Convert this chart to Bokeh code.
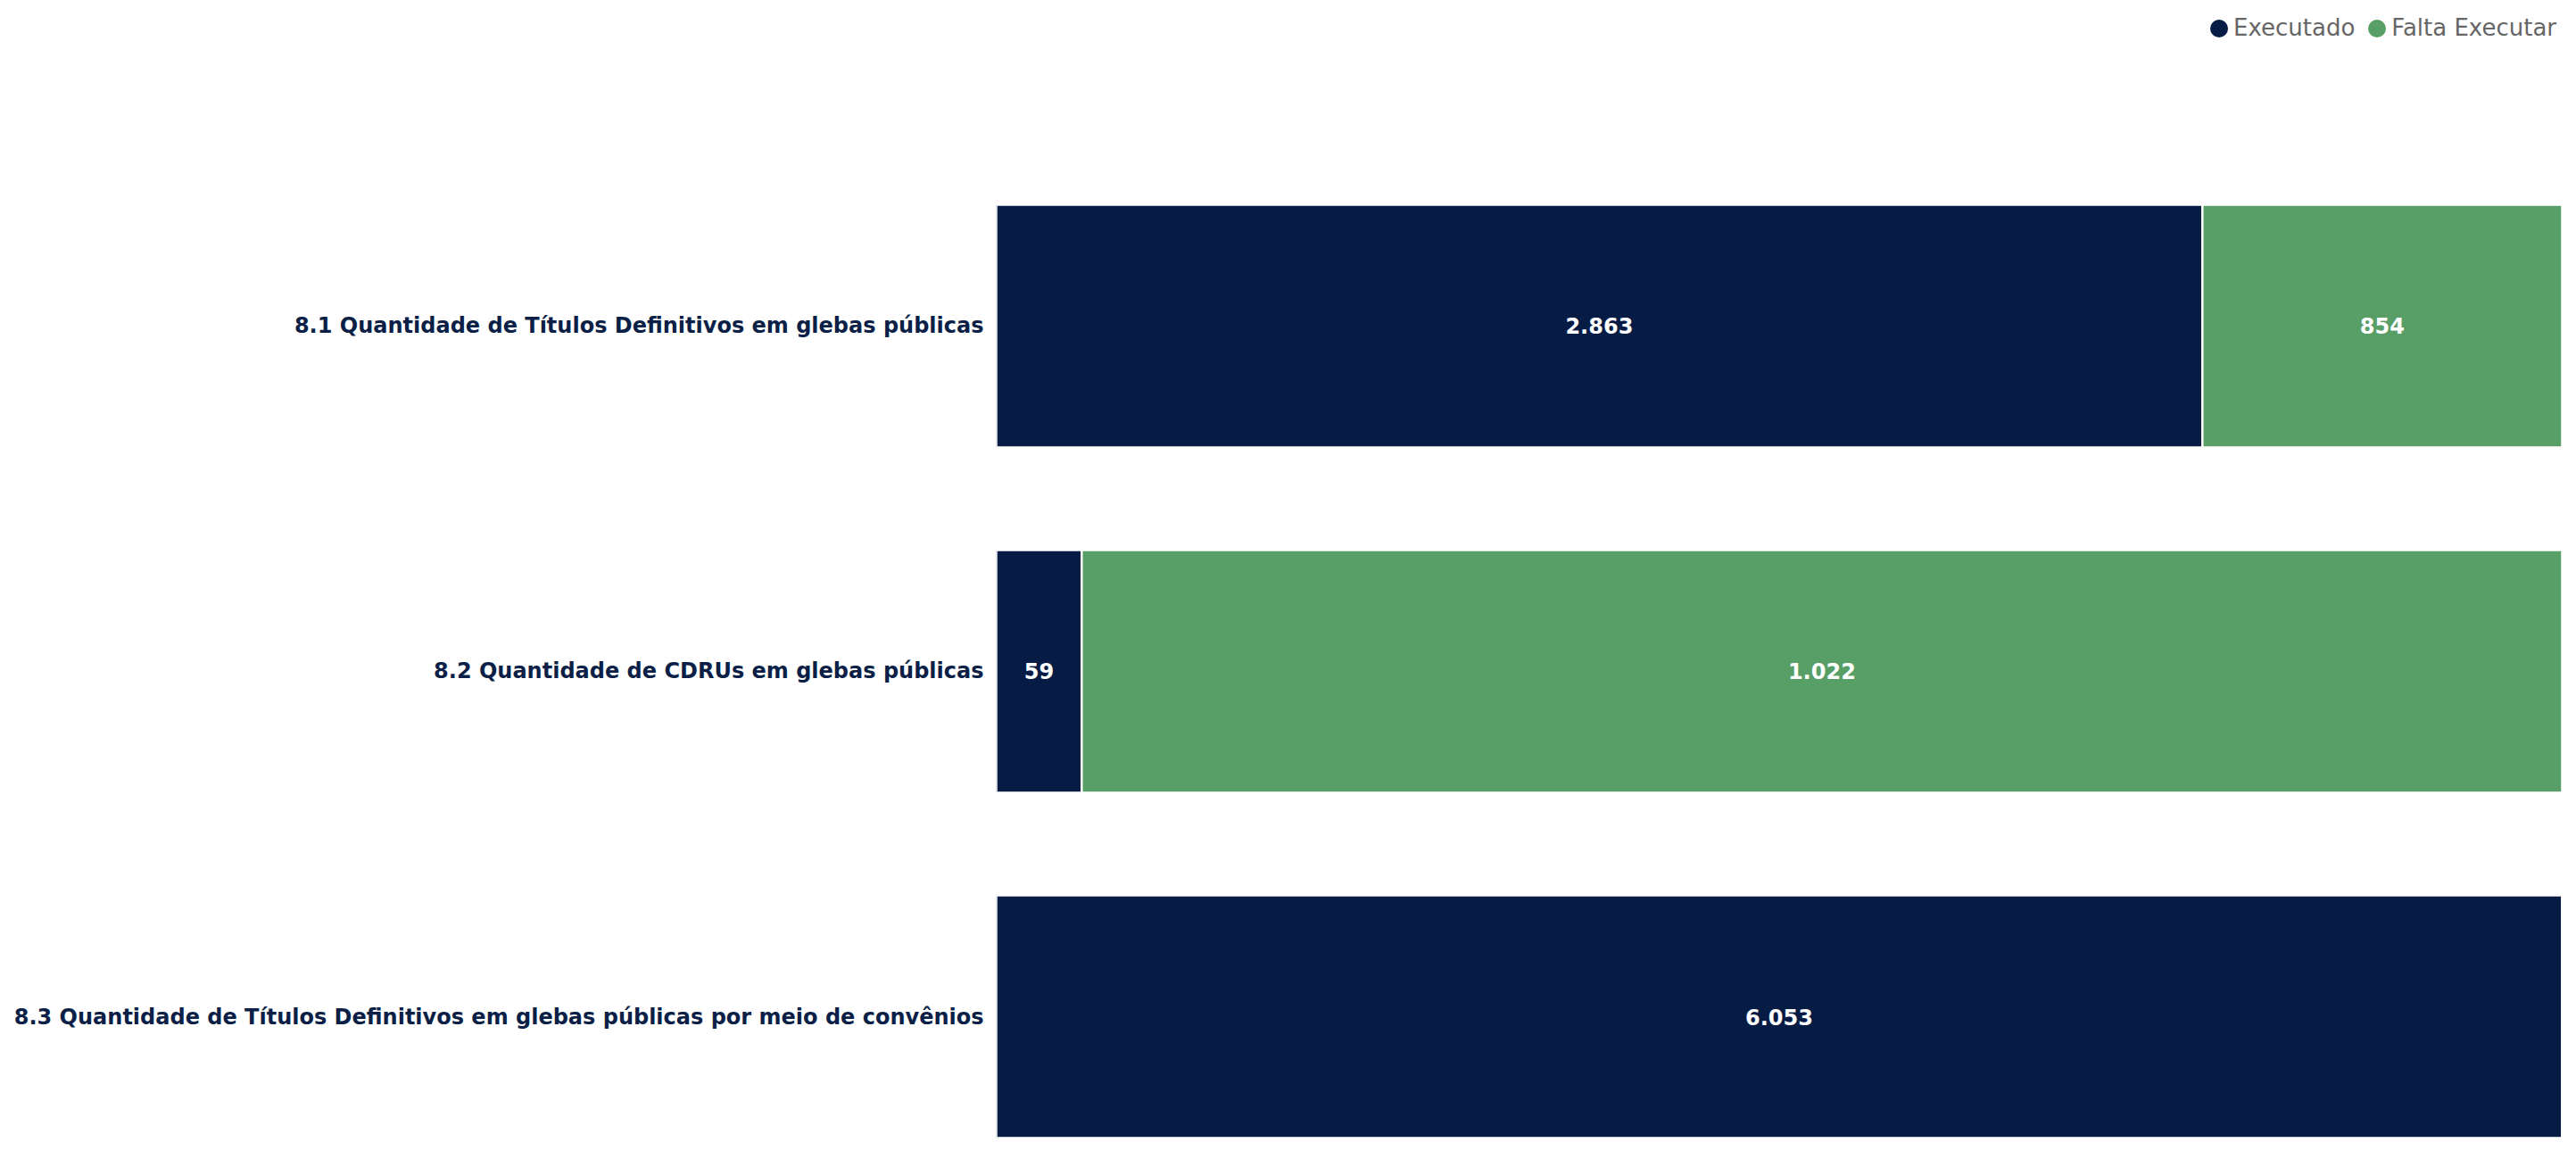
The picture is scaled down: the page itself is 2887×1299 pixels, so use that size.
from bokeh.plotting import figure
from bokeh.models import ColumnDataSource, Range1d, FixedTicker, Legend, LegendItem, LabelSet
from bokeh.core.properties import value
from bokeh.embed import file_html
from bokeh.resources import INLINE

categories = [
    "8.1 Quantidade de Títulos Definitivos em glebas públicas",
    "8.2 Quantidade de CDRUs em glebas públicas",
    "8.3 Quantidade de Títulos Definitivos em glebas públicas por meio de convênios",
]
executado = [2863, 59, 6053]
falta_executar = [854, 1022, 0]
series_names = ["Executado", "Falta Executar"]
colors = ["#061c45", "#589e67"]

def fmt(v):
    return f"{v:,}".replace(",", ".")

ypos = [len(categories) - 1 - i for i in range(len(categories))]
totals = [a + b for a, b in zip(executado, falta_executar)]
e_share = [a / t for a, t in zip(executado, totals)]
f_share = [b / t for b, t in zip(falta_executar, totals)]

src = ColumnDataSource(dict(
    y=ypos,
    e_left=[0] * len(ypos),
    e_right=e_share,
    f_left=e_share,
    f_right=[a + b for a, b in zip(e_share, f_share)],
))

W, H = 2859, 1283
p = figure(width=W, height=H, output_backend="svg", toolbar_location=None,
           x_range=Range1d(0, 1), y_range=Range1d(-0.372, 2.943),
           min_border_top=0, min_border_bottom=0, min_border_right=0,
           min_border_left=0, margin=(0, 0, 0, 12))
p.outline_line_color = None
p.grid.visible = False
p.xaxis.visible = False
p.background_fill_color = "white"
p.border_fill_color = "white"

bh = 0.703
r1 = p.hbar(y="y", left="e_left", right="e_right", height=bh, source=src,
            fill_color=colors[0], line_color="white", line_width=2.5)
r2 = p.hbar(y="y", left="f_left", right="f_right", height=bh, source=src,
            fill_color=colors[1], line_color="white", line_width=2.5)

# value labels
lx, ly, lt = [], [], []
for i, y in enumerate(ypos):
    if executado[i] > 0:
        lx.append(e_share[i] / 2); ly.append(y); lt.append(fmt(executado[i]))
    if falta_executar[i] > 0:
        lx.append(e_share[i] + f_share[i] / 2); ly.append(y); lt.append(fmt(falta_executar[i]))
lsrc = ColumnDataSource(dict(x=lx, y=ly, t=lt))
labels = LabelSet(x="x", y="y", text="t", source=lsrc, text_align="center",
                  text_baseline="middle", text_color="white",
                  text_font=value("DejaVu Sans"), text_font_style="bold",
                  text_font_size="24px", y_offset=0)
p.add_layout(labels)

yax = p.yaxis[0]
yax.ticker = FixedTicker(ticks=ypos)
yax.major_label_overrides = {y: c for y, c in zip(ypos, categories)}
yax.axis_line_color = None
yax.major_tick_line_color = None
yax.minor_tick_line_color = None
yax.major_tick_out = 0
yax.major_tick_in = 0
yax.major_label_standoff = 14
yax.major_label_text_font = "DejaVu Sans"
yax.major_label_text_font_style = "bold"
yax.major_label_text_font_size = "24px"
yax.major_label_text_color = "#0b1f47"

# legend with circular swatches (dummy glyphs outside the visible range)
d1 = p.ellipse(x=[-5], y=[-5], width=20, height=20, width_units="screen",
               height_units="screen", fill_color=colors[0], line_color=None)
d2 = p.ellipse(x=[-5], y=[-5], width=20, height=20, width_units="screen",
               height_units="screen", fill_color=colors[1], line_color=None)
legend = Legend(items=[LegendItem(label=series_names[0], renderers=[d1]),
                       LegendItem(label=series_names[1], renderers=[d2])],
                location=(1358, 1237), orientation="horizontal",
                label_text_font="DejaVu Sans", label_text_font_size="26px",
                label_text_color="#666666", glyph_width=25, glyph_height=25,
                label_standoff=4, spacing=12, padding=0, margin=0,
                background_fill_alpha=0, border_line_color=None)
p.add_layout(legend)

open("out.html", "w").write(file_html(p, INLINE))
